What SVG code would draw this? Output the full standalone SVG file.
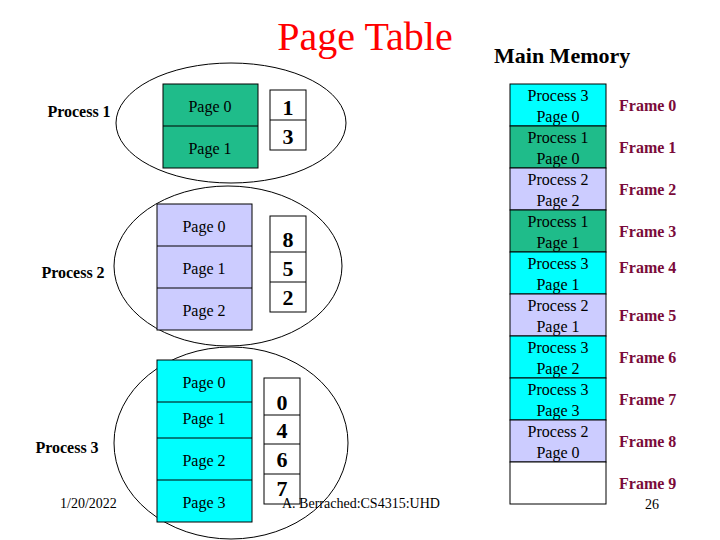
<svg xmlns="http://www.w3.org/2000/svg" width="720" height="540" viewBox="0 0 720 540" font-family="'Liberation Serif','Times New Roman','DejaVu Serif',serif">
<style>
text{font-family:'Liberation Serif','Times New Roman','DejaVu Serif',serif}
.pg{font-size:16px;text-anchor:middle}
.num{font-size:22px;font-weight:bold;text-anchor:middle}
.proc{font-size:16px;font-weight:bold;text-anchor:middle}
.fr{font-size:16px;font-weight:bold;fill:#7a0a3a}
.mem{font-size:16px;text-anchor:middle}
.ell{fill:none;stroke:#000;stroke-width:1}
.g{fill:#1fbc8a;stroke:#000}
.l{fill:#ccccff;stroke:#000}
.c{fill:#00ffff;stroke:#000}
.w{fill:#fff;stroke:#000}
.ln{stroke:#000}
.ft{font-size:14px}
</style>
<rect width="720" height="540" fill="#fff"/>
<text x="365" y="50" font-size="40" fill="#ff0000" text-anchor="middle">Page Table</text>
<text x="494" y="63" font-size="22" font-weight="bold">Main Memory</text>
<g id="ellipses">
<ellipse class="ell" cx="231" cy="123" rx="115" ry="60"/>
<ellipse class="ell" cx="228" cy="266" rx="114" ry="80"/>
<ellipse class="ell" cx="231" cy="443" rx="117" ry="96"/>
</g>
<g id="process1">
<text class="proc" x="79" y="117">Process 1</text>
<rect class="g" x="163" y="84" width="95" height="84"/>
<line class="ln" x1="163" y1="126" x2="258" y2="126"/>
<text class="pg" x="210" y="112">Page 0</text>
<text class="pg" x="210" y="154">Page 1</text>
<rect class="w" x="270" y="90" width="36" height="60"/>
<line class="ln" x1="270" y1="120" x2="306" y2="120"/>
<text class="num" x="288" y="115">1</text>
<text class="num" x="288" y="144">3</text>
</g>
<g id="process2">
<text class="proc" x="73" y="278">Process 2</text>
<rect class="l" x="157" y="204" width="95" height="126"/>
<line class="ln" x1="157" y1="246" x2="252" y2="246"/>
<line class="ln" x1="157" y1="288" x2="252" y2="288"/>
<text class="pg" x="204" y="232">Page 0</text>
<text class="pg" x="204" y="274">Page 1</text>
<text class="pg" x="204" y="316">Page 2</text>
<rect class="w" x="270" y="216" width="36" height="96"/>
<line class="ln" x1="270" y1="252" x2="306" y2="252"/>
<line class="ln" x1="270" y1="282" x2="306" y2="282"/>
<text class="num" x="288" y="247">8</text>
<text class="num" x="288" y="276">5</text>
<text class="num" x="288" y="305">2</text>
</g>
<g id="process3">
<text class="proc" x="67" y="453">Process 3</text>
<rect class="c" x="157" y="360" width="95" height="162"/>
<line class="ln" x1="157" y1="402" x2="252" y2="402"/>
<line class="ln" x1="157" y1="438" x2="252" y2="438"/>
<line class="ln" x1="157" y1="480" x2="252" y2="480"/>
<text class="pg" x="204" y="388">Page 0</text>
<text class="pg" x="204" y="424">Page 1</text>
<text class="pg" x="204" y="466">Page 2</text>
<text class="pg" x="204" y="508">Page 3</text>
<rect class="w" x="264" y="378" width="36" height="126"/>
<line class="ln" x1="264" y1="415" x2="300" y2="415"/>
<line class="ln" x1="264" y1="444" x2="300" y2="444"/>
<line class="ln" x1="264" y1="474" x2="300" y2="474"/>
<text class="num" x="282" y="410">0</text>
<text class="num" x="282" y="438">4</text>
<text class="num" x="282" y="467">6</text>
<text class="num" x="282" y="496">7</text>
</g>
<g id="memory">
<rect class="c" x="510" y="84" width="96" height="42"/>
<rect class="g" x="510" y="126" width="96" height="42"/>
<rect class="l" x="510" y="168" width="96" height="42"/>
<rect class="g" x="510" y="210" width="96" height="42"/>
<rect class="c" x="510" y="252" width="96" height="42"/>
<rect class="l" x="510" y="294" width="96" height="42"/>
<rect class="c" x="510" y="336" width="96" height="42"/>
<rect class="c" x="510" y="378" width="96" height="42"/>
<rect class="l" x="510" y="420" width="96" height="42"/>
<rect class="w" x="510" y="462" width="96" height="42"/>
<text class="mem" x="558" y="101">Process 3</text><text class="mem" x="558" y="122">Page 0</text>
<text class="mem" x="558" y="143">Process 1</text><text class="mem" x="558" y="164">Page 0</text>
<text class="mem" x="558" y="185">Process 2</text><text class="mem" x="558" y="206">Page 2</text>
<text class="mem" x="558" y="227">Process 1</text><text class="mem" x="558" y="248">Page 1</text>
<text class="mem" x="558" y="269">Process 3</text><text class="mem" x="558" y="290">Page 1</text>
<text class="mem" x="558" y="311">Process 2</text><text class="mem" x="558" y="332">Page 1</text>
<text class="mem" x="558" y="353">Process 3</text><text class="mem" x="558" y="374">Page 2</text>
<text class="mem" x="558" y="395">Process 3</text><text class="mem" x="558" y="416">Page 3</text>
<text class="mem" x="558" y="437">Process 2</text><text class="mem" x="558" y="458">Page 0</text>
</g>
<g id="frames">
<text class="fr" x="619" y="111">Frame 0</text>
<text class="fr" x="619" y="153">Frame 1</text>
<text class="fr" x="619" y="195">Frame 2</text>
<text class="fr" x="619" y="237">Frame 3</text>
<text class="fr" x="619" y="273">Frame 4</text>
<text class="fr" x="619" y="321">Frame 5</text>
<text class="fr" x="619" y="363">Frame 6</text>
<text class="fr" x="619" y="405">Frame 7</text>
<text class="fr" x="619" y="447">Frame 8</text>
<text class="fr" x="619" y="489">Frame 9</text>
</g>
<g id="connectors"></g>
<text class="ft" x="60" y="508">1/20/2022</text>
<text class="ft" x="282" y="508">A. Berrached:CS4315:UHD</text>
<text class="ft" x="645" y="509">26</text>
</svg>
